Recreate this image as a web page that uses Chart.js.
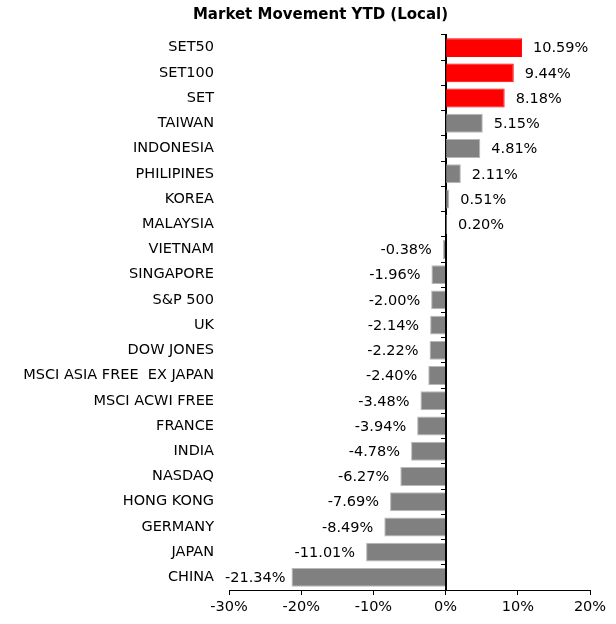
<!DOCTYPE html>
<html><head><meta charset="utf-8">
<script src="https://cdn.jsdelivr.net/npm/chart.js@4.4.1/dist/chart.umd.min.js"></script>
<style>html,body{margin:0;padding:0;background:#fff}</style>
</head><body>
<canvas id="c" width="616" height="624" style="width:616px;height:624px;display:block"></canvas>
<script>
const categories = ['SET50','SET100','SET','TAIWAN','INDONESIA','PHILIPINES','KOREA','MALAYSIA','VIETNAM','SINGAPORE','S&P 500','UK','DOW JONES','MSCI ASIA FREE  EX JAPAN','MSCI ACWI FREE','FRANCE','INDIA','NASDAQ','HONG KONG','GERMANY','JAPAN','CHINA'];
const ytdValues = [10.59,9.44,8.18,5.15,4.81,2.11,0.51,0.20,-0.38,-1.96,-2.00,-2.14,-2.22,-2.40,-3.48,-3.94,-4.78,-6.27,-7.69,-8.49,-11.01,-21.34];
const highlighted = ['SET50','SET100','SET'];
const xMin = -30, xMax = 20, xStep = 10;
const titleText = 'Market Movement YTD (Local)';

const FAMILY = '"DejaVu Sans", Verdana, sans-serif';

const valueLabels = {
  id: 'valueLabels',
  afterDatasetsDraw(chart) {
    const {ctx, chartArea} = chart;
    const meta = chart.getDatasetMeta(0);
    ctx.save();
    ctx.font = '14.5px ' + FAMILY;
    ctx.fillStyle = '#000';
    ctx.textBaseline = 'middle';
    ctx.textAlign = 'left';
    meta.data.forEach((bar, i) => {
      const v = ytdValues[i];
      const txt = v.toFixed(2) + '%';
      const w = ctx.measureText(txt).width;
      let x;
      if (v >= 0) {
        x = Math.max(bar.x, bar.base) + 11;
      } else {
        x = Math.min(bar.x, bar.base) - 11 - w;
        if (x < chartArea.left - 4) x = chartArea.left - 4;
      }
      ctx.fillText(txt, x, bar.y + 1);
    });
    ctx.restore();
  }
};

// let the category labels use the full left margin (avoid label clipping)
const widenLabelArea = {
  id: 'widenLabelArea',
  afterLayout(chart) {
    const s = chart.scales.y;
    s.left = 0;
    s.width = s.right;
  }
};

new Chart(document.getElementById('c'), {
  type: 'bar',
  data: {
    labels: categories,
    datasets: [{
      data: ytdValues,
      backgroundColor: c => highlighted.includes(categories[c.dataIndex]) ? '#ff0000' : '#808080',
      borderColor: c => highlighted.includes(categories[c.dataIndex]) ? '#ff0000' : '#b8b8b8',
      borderWidth: 1,
      barPercentage: 0.75,
      categoryPercentage: 1
    }]
  },
  options: {
    indexAxis: 'y',
    responsive: false,
    devicePixelRatio: 1,
    animation: false,
    layout: { padding: { left: 51, right: 26, top: 0, bottom: 0 } },
    plugins: {
      legend: { display: false },
      tooltip: { enabled: false },
      title: {
        display: true,
        text: titleText,
        color: '#000',
        font: { family: FAMILY, size: 15, weight: 'bold' },
        padding: { top: 6, bottom: 11 }
      }
    },
    scales: {
      x: {
        type: 'linear', min: xMin, max: xMax, position: 'bottom',
        ticks: { stepSize: xStep, callback: v => v + '%', color: '#000', font: { family: FAMILY, size: 14.5 }, padding: 4, maxRotation: 0 },
        grid: { drawOnChartArea: false, drawTicks: true, tickLength: 5, color: '#000', lineWidth: 1 },
        border: { display: true, color: '#000', width: 1 },
        afterFit: s => { s.height = 34; }
      },
      y: {
        type: 'category', position: 'left', offset: true,
        grid: { display: false, drawTicks: false },
        border: { display: false },
        ticks: { color: '#000', font: { family: FAMILY, size: 14.5 }, padding: 15, autoSkip: false },
        afterFit: s => { s.width = 229 - 51; }
      },
      y2: {
        type: 'category', position: { x: 0 }, offset: true,
        grid: { display: true, offset: true, drawOnChartArea: false, drawTicks: true, tickLength: 4, color: '#000', lineWidth: 1 },
        border: { display: true, color: '#000', width: 2 },
        ticks: { display: false },
        afterFit: s => { s.width = 0; }
      }
    }
  },
  plugins: [valueLabels, widenLabelArea]
});
</script>
</body></html>
